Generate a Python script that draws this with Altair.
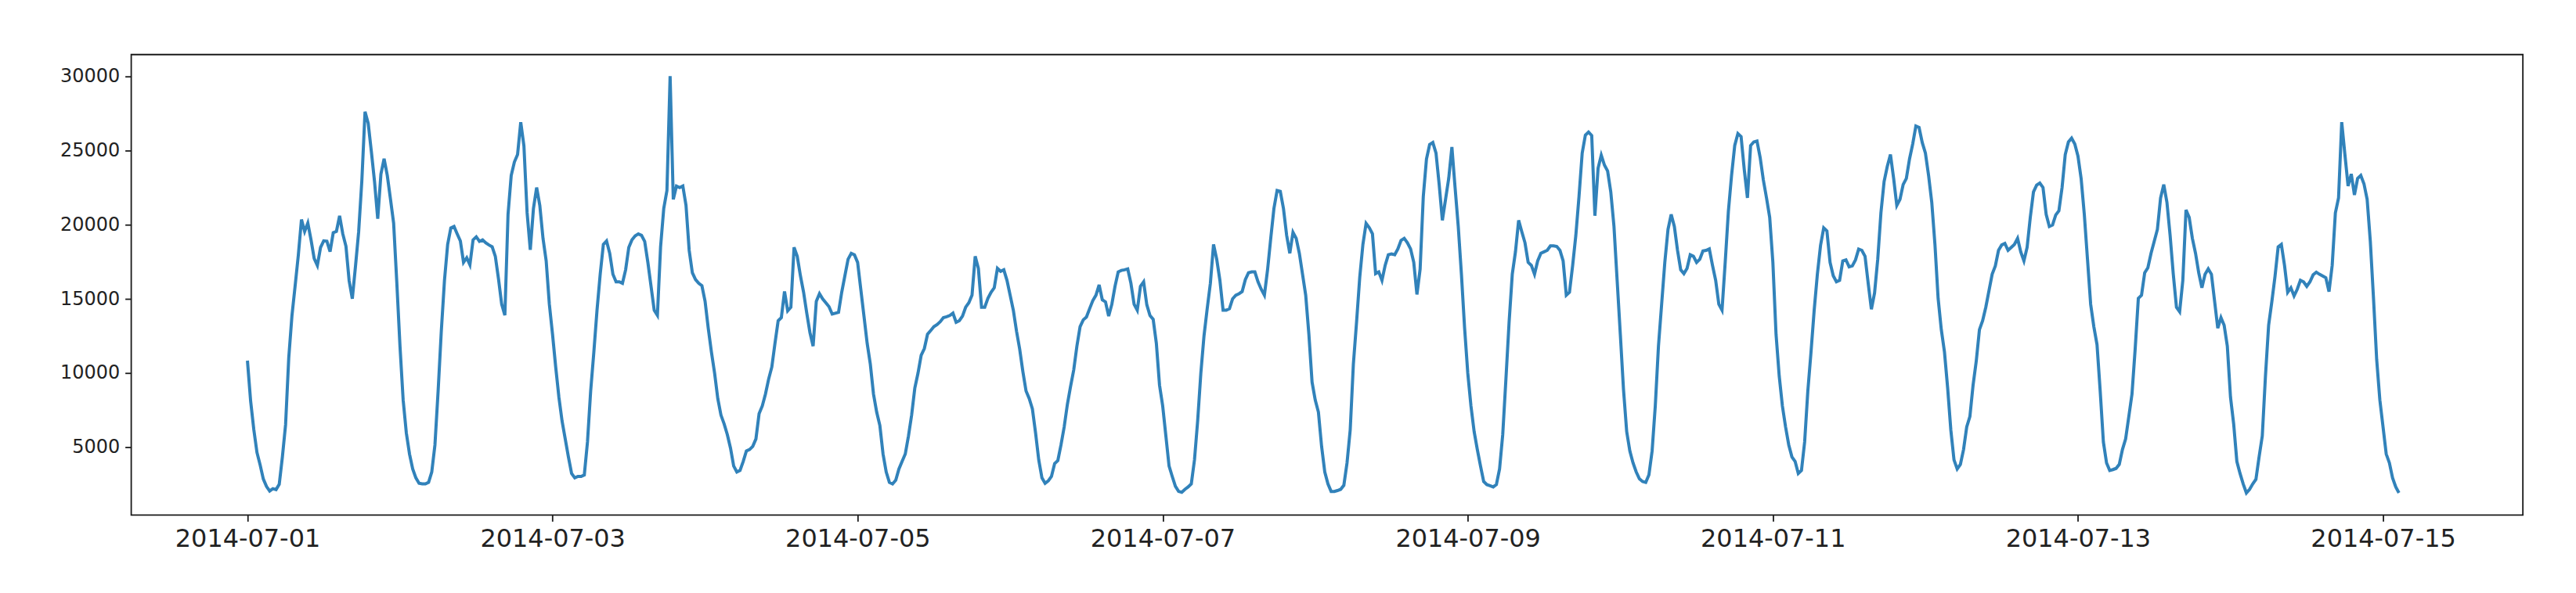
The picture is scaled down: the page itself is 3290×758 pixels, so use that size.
import altair as alt
import pandas as pd

# Half-hourly values, one list per day
day_0701 = [10844, 8127, 6210, 4656, 3820, 2873, 2369, 2064, 2221, 2158, 2515, 4364,
            6526, 11039, 13857, 15865, 17920, 20346, 19539, 20107, 18984, 17720, 17249, 18463,
            18908, 18886, 18178, 19459, 19546, 20591, 19380, 18544, 16228, 15013, 17203, 19525,
            22966, 27598, 26827, 24904, 22875, 20394, 23401, 24439, 23318, 21733, 20104, 16111]
day_0702 = [11820, 8190, 5970, 4560, 3550, 2950, 2585, 2545, 2545, 2650, 3350, 5170,
            8800, 12830, 16250, 18670, 19780, 19880, 19380, 18900, 17460, 17770, 17300, 18975,
            19180, 18875, 18975, 18775, 18630, 18510, 17870, 16350, 14640, 13900, 20690, 23310,
            24220, 24720, 26900, 25300, 20800, 18300, 21090, 22500, 21290, 19080, 17560, 14640]
day_0703 = [12620, 10410, 8390, 6780, 5570, 4360, 3250, 2950, 3050, 3050, 3150, 5370,
            8800, 11420, 14240, 16660, 18670, 18900, 18070, 16660, 16150, 16150, 16050, 16960,
            18470, 18980, 19240, 19380, 19280, 18875, 17460, 15850, 14240, 13900, 18500, 21090,
            22300, 30000, 21700, 22600, 22500, 22600, 21300, 18270, 16760, 16300, 16050, 15890]
day_0704 = [14840, 13030, 11420, 10000, 8290, 7180, 6580, 5870, 4960, 3750, 3350, 3450,
            4060, 4760, 4860, 5070, 5570, 7280, 7790, 8590, 9600, 10410, 12020, 13530,
            13740, 15500, 14200, 14440, 18470, 17870, 16560, 15450, 14040, 12730, 11820, 14840,
            15350, 15000, 14740, 14480, 13980, 14040, 14100, 15450, 16560, 17670, 18070, 17970]
day_0705 = [17460, 15650, 13840, 12020, 10610, 8590, 7380, 6480, 4560, 3350, 2650, 2545,
            2790, 3550, 4060, 4560, 5770, 7180, 9000, 10000, 11210, 11660, 12620, 12870,
            13130, 13270, 13470, 13740, 13800, 13880, 14040, 13430, 13530, 13840, 14440, 14740,
            15250, 17870, 17060, 14440, 14440, 15040, 15450, 15750, 17060, 16860, 16960, 16250]
day_0706 = [15250, 14240, 12830, 11620, 10110, 8800, 8290, 7590, 5970, 4160, 2950, 2585,
            2750, 3050, 3920, 4120, 5170, 6380, 7890, 9100, 10210, 11820, 13130, 13590,
            13780, 14340, 14880, 15250, 15950, 14940, 14800, 13840, 14640, 15850, 16820, 16920,
            16960, 17020, 16050, 14640, 14240, 15850, 16150, 14600, 13880, 13630, 12020, 9200]
day_0707 = [7790, 5770, 3750, 3050, 2380, 2040, 1980, 2180, 2340, 2545, 4160, 6780,
            10000, 12520, 14340, 16050, 18670, 17670, 16250, 14240, 14240, 14340, 15010, 15250,
            15350, 15490, 16300, 16760, 16820, 16820, 16150, 15650, 15250, 16960, 19080, 21090,
            22300, 22240, 21090, 19280, 18070, 19480, 19080, 18070, 16660, 15250, 12620, 9400]
day_0708 = [8190, 7380, 5070, 3350, 2545, 2040, 2040, 2100, 2180, 2450, 3960, 6170,
            10610, 13430, 16450, 18670, 20090, 19800, 19380, 16700, 16820, 16250, 17260, 17970,
            18030, 17970, 18370, 18940, 19080, 18780, 18370, 17460, 15300, 17000, 21900, 24420,
            25390, 25530, 24820, 22700, 20290, 21700, 23110, 25230, 22500, 19880, 16660, 13030]
day_0709 = [10000, 7790, 6070, 4860, 3750, 2710, 2500, 2420, 2340, 2500, 3550, 5870,
            9600, 13430, 16660, 18170, 20290, 19520, 18780, 17460, 17260, 16660, 17560, 18070,
            18170, 18270, 18570, 18570, 18530, 18270, 17560, 15250, 15450, 17260, 19280, 21900,
            24820, 26030, 26230, 26000, 20600, 23800, 24680, 24010, 23610, 22200, 19880, 16250]
day_0710 = [12620, 8900, 6070, 4760, 3960, 3350, 2890, 2710, 2650, 3150, 4760, 7790,
            11820, 14640, 17460, 19680, 20690, 19880, 18270, 16960, 16700, 17060, 17970, 17870,
            17460, 17670, 18230, 18270, 18370, 17260, 16250, 14640, 14240, 17460, 20890, 23310,
            25330, 26130, 25930, 23710, 21800, 25330, 25570, 25630, 24520, 23010, 21800, 20490]
day_0711 = [17460, 12620, 9800, 7790, 6380, 5170, 4360, 4060, 3250, 3450, 5370, 8800,
            11420, 14240, 16660, 18600, 19780, 19580, 17460, 16560, 16150, 16250, 17560, 17630,
            17160, 17220, 17630, 18350, 18270, 17870, 16050, 14300, 15400, 17670, 20790, 22900,
            23920, 24720, 23110, 21290, 21700, 22700, 23110, 24420, 25430, 26640, 26540, 25530]
day_0712 = [24820, 23310, 21500, 18670, 15040, 12930, 11420, 9000, 6170, 4160, 3550, 3860,
            4860, 6380, 7080, 9200, 10810, 12930, 13530, 14440, 15550, 16660, 17220, 18270,
            18630, 18730, 18270, 18470, 18670, 19080, 18170, 17560, 18470, 20490, 22200, 22660,
            22800, 22500, 20690, 19880, 19980, 20650, 20930, 22500, 24720, 25570, 25830, 25430]
day_0713 = [24620, 23110, 20690, 17670, 14640, 13130, 11920, 8800, 5370, 3960, 3450, 3510,
            3590, 3860, 4860, 5570, 7080, 8590, 11620, 15040, 15250, 16760, 17100, 18070,
            18870, 19680, 21800, 22700, 21500, 19280, 16660, 14440, 14140, 16250, 20990, 20490,
            19080, 18070, 16760, 15750, 16660, 17020, 16660, 14840, 13030, 13740, 13230, 11820]
day_0714 = [8390, 6580, 4060, 3250, 2545, 1940, 2180, 2545, 2850, 4360, 5770, 9800,
            13230, 14800, 16500, 18500, 18670, 17260, 15450, 15750, 15200, 15650, 16250, 16150,
            15850, 16150, 16620, 16800, 16660, 16540, 16420, 15490, 17260, 20790, 21800, 26900,
            24720, 22600, 23410, 22000, 23110, 23310, 22750, 21700, 18870, 15040, 10910, 8190]
day_0715 = [6380, 4560, 3960, 2950, 2340, 1940]

days = [day_0701, day_0702, day_0703, day_0704, day_0705, day_0706, day_0707,
        day_0708, day_0709, day_0710, day_0711, day_0712, day_0713, day_0714, day_0715]

x_tick_days = [1, 3, 5, 7, 9, 11, 13, 15]
y_tick_values = [5000, 10000, 15000, 20000, 25000, 30000]

values = [v for d in days for v in d]
times = pd.date_range("2014-07-01 00:00", periods=len(values), freq="30min")
df = pd.DataFrame({
    "time": times.strftime("%Y-%m-%dT%H:%M:%SZ"),
    "value": values,
})

x_axis = alt.Axis(
    values=[alt.DateTime(year=2014, month=7, date=d, utc=True) for d in x_tick_days],
    format="%Y-%m-%d",
    title="",
    grid=False,
    domain=False,
    labelFontSize=32,
    labelPadding=7,
    labelFlush=False,
    labelOverlap=False,
    labelLimit=600,
)
y_axis = alt.Axis(
    values=y_tick_values,
    format="d",
    title="",
    grid=False,
    domain=False,
    labelFontSize=24,
    labelPadding=7,
    labelLimit=600,
)

chart = alt.Chart(df).mark_line(color="#1f77b4", strokeWidth=4, strokeOpacity=0.92, clip=True).encode(
    x=alt.X("time:T", axis=x_axis, scale=alt.Scale(
        type="utc",
        domain=[alt.DateTime(year=2014, month=6, date=30, hours=5, minutes=43, utc=True),
                alt.DateTime(year=2014, month=7, date=15, hours=22, minutes=0, utc=True)],
        nice=False)),
    y=alt.Y("value:Q", axis=y_axis, scale=alt.Scale(domain=[450, 31450], nice=False, zero=False)),
).properties(
    width=3062,
    height=590,
    background="white",
    autosize=alt.AutoSizeParams(type="none"),
    padding={"left": 160, "top": 61, "right": 60, "bottom": 99},
).configure_view(
    stroke="#1a1a1a",
    strokeWidth=1.8,
).configure_axis(
    labelFont="DejaVu Sans",
    labelColor="#222222",
    tickColor="#1a1a1a",
    tickWidth=1.8,
    tickSize=8,
)

chart.save("out.html", embed_options={"renderer": "svg", "actions": False})
